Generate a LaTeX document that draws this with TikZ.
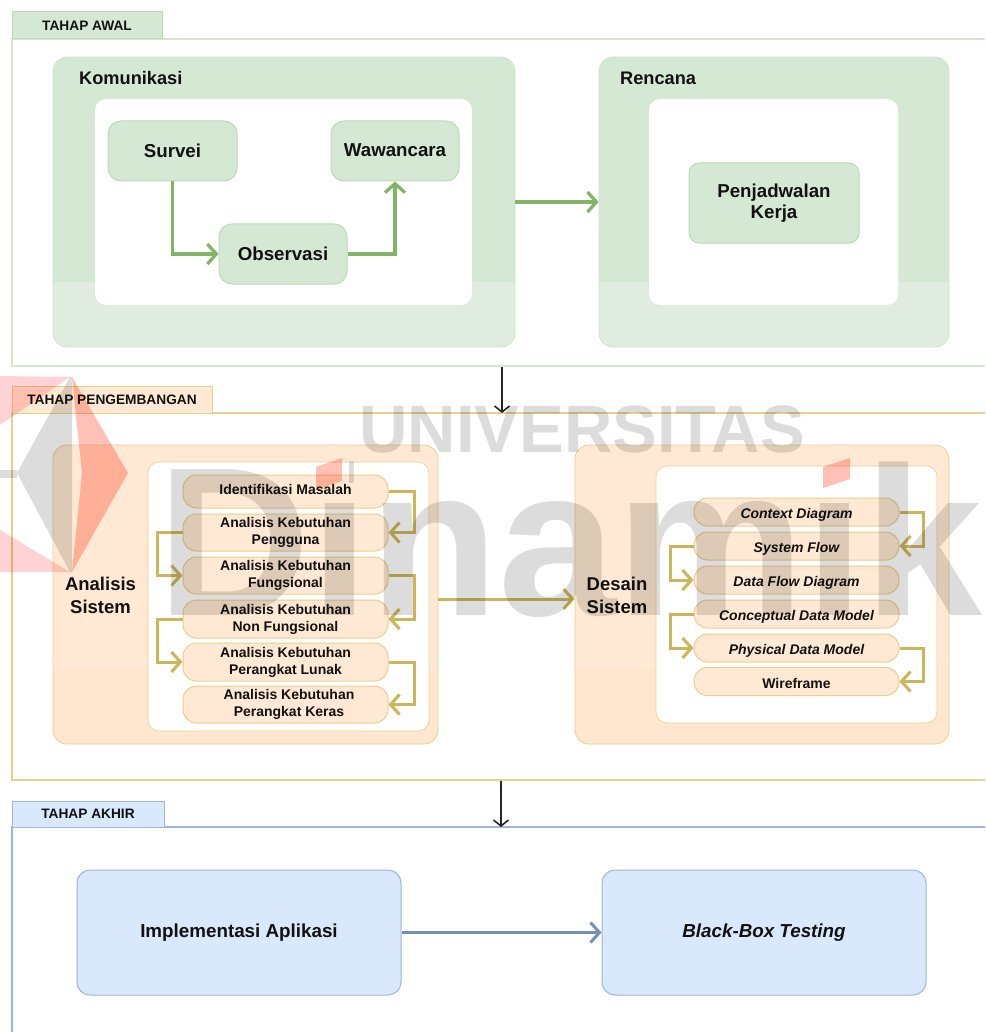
\documentclass[tikz,border=0pt]{standalone}
\usepackage{fontspec}
\setmainfont{Liberation Sans}
\usetikzlibrary{arrows.meta}
\definecolor{gfill}{HTML}{D5E8D4}
\definecolor{gband}{HTML}{E0ECDF}
\definecolor{gline}{HTML}{BFD8B8}
\definecolor{gframe}{HTML}{D6E6CF}
\definecolor{garrow}{HTML}{82B366}
\definecolor{ofill}{HTML}{FFE9D4}
\definecolor{oband}{HTML}{FFE6CF}
\definecolor{oline}{HTML}{E9D08E}
\definecolor{oframe}{HTML}{E3D28C}
\definecolor{oarrow}{HTML}{CDB55A}
\definecolor{bfill}{HTML}{DAE8FC}
\definecolor{bline}{HTML}{9DB5D6}
\definecolor{barrow}{HTML}{7590B5}
\definecolor{ink}{HTML}{111111}
\definecolor{wmgrey}{HTML}{DCDCDC}
\definecolor{wmred}{HTML}{FFC0B8}
\definecolor{wmpale}{HTML}{FFD3D6}
\tikzset{
  cell/.style={rectangle,inner sep=0pt,align=center,text=ink,font=\bfseries},
  frame/.style={cell,draw=#1,line width=1.1pt,fill=white},
  tabcell/.style 2 args={cell,draw=#1,fill=#2,line width=1pt,font=\fontsize{13.7}{16}\selectfont\bfseries},
  band/.style 2 args={path picture={\fill[#1,sharp corners] (path picture bounding box.south west) rectangle ([yshift=#2]path picture bounding box.south east);}},
  outer/.style={cell,rounded corners=14pt},
  whitecell/.style={cell,fill=white,rounded corners=11pt},
  gbox/.style={cell,fill=gfill,draw=gline,line width=1pt,rounded corners=13pt,font=\fontsize{18.7}{21}\selectfont\bfseries},
  pill/.style={cell,fill=ofill,draw=oline,line width=1pt,rounded corners=13.5pt,minimum width=205pt,font=\fontsize{14}{17}\selectfont\bfseries,execute at begin node={\rule{0pt}{15pt}}},
  twolines/.style={execute at begin node={\rule{0pt}{19pt}}},
  bbox/.style={cell,fill=bfill,draw=bline,line width=1pt,rounded corners=13pt,minimum width=324pt,minimum height=125pt,font=\fontsize{18.8}{22}\selectfont\bfseries},
  lab/.style={cell,font=\fontsize{18.2}{23}\selectfont\bfseries},
  garr/.style={draw=garrow,line width=3.2pt,-{Straight Barb[length=9pt,width=20pt]}},
  oarr/.style={draw=oarrow,line width=3pt,-{Straight Barb[length=9pt,width=20pt]}},
  barr/.style={draw=barrow,line width=3pt,-{Straight Barb[length=9pt,width=20pt]}},
  karr/.style={draw=black!85,line width=1.6pt,-{Straight Barb[length=6pt,width=15pt]}},
}
\begin{document}
\begin{tikzpicture}[x=1pt,y=-1pt]
\clip (0,0) rectangle (985,1032);
\fill[white] (0,0) rectangle (985,1032);
% frames
\node[frame=gframe,minimum width=978pt,minimum height=327pt] (awal) at (501,202.5) {};
\node[frame=oframe,minimum width=978pt,minimum height=367pt] (kembang) at (501,596.5) {};
\node[frame=bline,minimum width=978pt,minimum height=213pt] (akhir) at (501,933.5) {};
\node[tabcell={gline}{gfill},minimum width=150pt,minimum height=27pt] (tabawal) at (87,25.5) {TAHAP AWAL};
\node[tabcell={oframe}{ofill},minimum width=200pt,minimum height=27pt] (tabkembang) at (112,399.5) {TAHAP PENGEMBANGAN};
\node[tabcell={bline}{bfill},minimum width=152pt,minimum height=26pt] (tabakhir) at (88,814) {TAHAP AKHIR};
% green
\node[outer,fill=gfill,draw=gline!70,line width=.8pt,band={gband}{65pt},minimum width=462pt,minimum height=290pt] (komunikasi) at (284,202) {};
\node[outer,fill=gfill,draw=gline!70,line width=.8pt,band={gband}{65pt},minimum width=350pt,minimum height=290pt] (rencana) at (774,202) {};
\node[whitecell,minimum width=377pt,minimum height=206pt] (wkom) at (283.5,202) {};
\node[whitecell,minimum width=249pt,minimum height=206pt] (wren) at (773.5,202) {};
\node[lab,anchor=west] (lkom) at (79,78) {Komunikasi};
\node[lab,anchor=west] (lren) at (620,78) {Rencana};
\node[gbox,minimum width=129pt,minimum height=60pt] (survei) at (172.5,151) {Survei};
\node[gbox,minimum width=128pt,minimum height=60pt] (wawancara) at (395,151) {\raisebox{1pt}{Wawancara}};
\node[gbox,minimum width=128pt,minimum height=60pt] (observasi) at (283,254) {Observasi};
\node[gbox,rounded corners=10pt,minimum width=170pt,minimum height=80pt,execute at begin node={\rule{0pt}{22pt}}] (jadwal) at (774,203) {Penjadwalan\\Kerja};
\draw[garr] (survei.south) |- (observasi.west);
\draw[garr] (observasi.east) -| (wawancara.south);
\draw[garr] (komunikasi.east) -- (rencana.west);
% orange
\node[outer,fill=ofill,draw=oline,line width=.8pt,band={oband}{76pt},minimum width=385pt,minimum height=299pt] (analisis) at (245.5,594.5) {};
\node[outer,fill=ofill,draw=oline,line width=.8pt,band={oband}{76pt},minimum width=374pt,minimum height=299pt] (desain) at (762,594.5) {};
\node[whitecell,draw=oline,line width=.6pt,minimum width=281pt,minimum height=269pt] (wana) at (288.5,596.5) {};
\node[whitecell,draw=oline,line width=.6pt,minimum width=281pt,minimum height=257pt] (wdes) at (796.5,594.5) {};
\node[lab,font=\fontsize{18.5}{22.5}\selectfont\bfseries] (lana) at (100.5,595.5) {Analisis\\Sistem};
\node[lab,font=\fontsize{18.5}{22.5}\selectfont\bfseries] (ldes) at (617,595.5) {Desain\\Sistem};
\node[pill,minimum height=33pt] (a1) at (285.5,491.5) {\raisebox{5pt}{Identifikasi Masalah}};
\node[pill,twolines,minimum height=37pt] (a2) at (285.5,532.5) {Analisis Kebutuhan\\Pengguna};
\node[pill,twolines,minimum height=37pt] (a3) at (285.5,575.5) {Analisis Kebutuhan\\Fungsional};
\node[pill,twolines,minimum height=38pt] (a4) at (285.5,619) {Analisis Kebutuhan\\Non Fungsional};
\node[pill,twolines,minimum height=38pt] (a5) at (285.5,662) {Analisis Kebutuhan\\Perangkat Lunak};
\node[pill,twolines,minimum height=37pt] (a6) at (285.5,704.5) {\hspace*{7pt}Analisis Kebutuhan\\\hspace*{7pt}Perangkat Keras};
\coordinate (ar) at (414,0);
\coordinate (al) at (157,0);
\draw[oarr] (a1.east) -| (ar |- a1) |- (a2.east);
\draw[oarr] (a2.west) -| (al |- a2) |- (a3.west);
\draw[oarr] (a3.east) -| (ar |- a3) |- (a4.east);
\draw[oarr] (a4.west) -| (al |- a4) |- (a5.west);
\draw[oarr] (a5.east) -| (ar |- a5) |- (a6.east);
\node[pill,minimum height=28pt] (d1) at (796.5,512) {\itshape Context Diagram};
\node[pill,minimum height=28pt] (d2) at (796.5,546) {\itshape System Flow};
\node[pill,minimum height=28pt] (d3) at (796.5,580) {\itshape Data Flow Diagram};
\node[pill,minimum height=28pt] (d4) at (796.5,614) {\itshape Conceptual Data Model};
\node[pill,minimum height=28pt] (d5) at (796.5,648) {\itshape Physical Data Model};
\node[pill,minimum height=28pt] (d6) at (796.5,681.5) {Wireframe};
\coordinate (dr) at (923,0);
\coordinate (dl) at (670,0);
\draw[oarr] (d1.east) -| (dr |- d1) |- (d2.east);
\draw[oarr] (d2.west) -| (dl |- d2) |- (d3.west);
\draw[oarr] (d4.west) -| (dl |- d4) |- (d5.west);
\draw[oarr] (d5.east) -| (dr |- d5) |- (d6.east);
\draw[oarr] (analisis.east |- 0,599) -- (desain.west |- 0,599);
% blue
\node[bbox] (impl) at (239,932.5) {\raisebox{-2pt}{Implementasi Aplikasi}};
\node[bbox] (bb) at (764,932.5) {\raisebox{-2pt}{\itshape Black-Box Testing}};
\draw[barr] (impl.east) -- (bb.west);
% stage connectors
\coordinate (c1a) at (502,367);
\coordinate (c1b) at (502,413);
\coordinate (c2a) at (501,781);
\coordinate (c2b) at (501,827);
\draw[karr] (c1a) -- (c1b);
\draw[karr] (c2a) -- (c2b);
% watermark
\begin{scope}[blend mode=multiply]
\node[text=wmgrey,inner sep=0pt,anchor=base,font=\fontsize{67}{67}\selectfont\bfseries] (wm1) at (582,452) {UNIVERSITAS};
\begin{scope}[even odd rule]
\clip (0,0) rectangle (985,1032) (305,445) rectangle (349,497) (812,445) rectangle (860,497);
\node[text=wmgrey,inner sep=0pt,anchor=base west,font=\fontsize{212}{212}\selectfont\bfseries] (wm2) at (157,615) {Dinamika};
\end{scope}
\fill[wmgrey] (70,377) -- (17,473) -- (70,572) -- (72,572) -- (72,377) -- cycle;
\fill[wmgrey] (0,470) -- (17,470) -- (17,478) -- (0,478) -- cycle;
\fill[wmpale] (0,376) -- (70,377) -- (0,425) -- cycle;
\fill[wmred] (72,377) -- (128,473) -- (72,572) -- (82,473) -- cycle;
\fill[wmpale] (0,530) -- (70,572) -- (0,572) -- cycle;
\fill[wmred] (316,467) -- (342,458) -- (342,481) -- (316,490) -- cycle;
\fill[wmred] (823,467) -- (850,458) -- (850,479) -- (823,488) -- cycle;
\end{scope}
\end{tikzpicture}
\end{document}
